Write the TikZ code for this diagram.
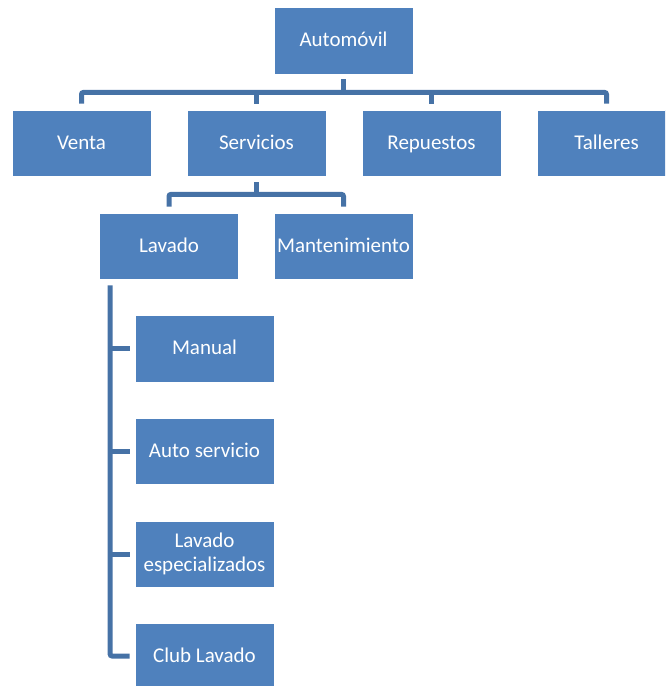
\documentclass[tikz,border=0pt]{standalone}
\usepackage{fontspec}
\setmainfont{Carlito}
\usetikzlibrary{calc}
\definecolor{boxblue}{HTML}{4F81BD}
\definecolor{connblue}{HTML}{4672A6}
\tikzset{
  orgbox/.style={rectangle, fill=boxblue, draw=white, line width=0.8pt,
    minimum width=139pt, minimum height=66pt, inner sep=0pt,
    text=white, font=\fontsize{21}{25}\selectfont, align=center},
  oneline/.style={text height=15.5pt, text depth=3pt},
  conn/.style={draw=connblue, line width=5pt, rounded corners=2pt}
}
\begin{document}
\begin{tikzpicture}[x=1pt,y=-1pt]
\useasboundingbox (0,0) rectangle (665,686);
\clip (0,0) rectangle (665,686);
\node[orgbox, oneline, minimum height=67pt] (auto) at (343.5,40.5) {Automóvil};
\node[orgbox, oneline] (venta) at (81.5,143) {Venta};
\node[orgbox, oneline] (serv) at (256.5,143) {Servicios};
\node[orgbox, oneline] (rep) at (431.5,143) {Repuestos};
\node[orgbox, oneline] (tall) at (606.5,143) {Talleres};
\node[orgbox, oneline] (lav) at (169,246) {Lavado};
\node[orgbox, oneline] (mant) at (343.5,246) {Mantenimiento};
\node[orgbox, oneline, minimum height=67pt] (manual) at (204.5,348.5) {Manual};
\node[orgbox, oneline] (autoserv) at (204.5,451) {Auto servicio};
\node[orgbox] (lavesp) at (204.5,554) {Lavado\\[-1pt]especializados};
\node[orgbox, oneline] (club) at (204.5,656) {Club Lavado};
% top level
\coordinate (hub) at ($(auto.south)+(0,18)$);
\draw[conn] ($(auto.south)+(0,5)$) -- (hub);
\draw[conn] ($(venta.north)+(0,-6)$) |- (hub) -| ($(tall.north)+(0,-6)$);
\draw[conn] ($(serv.north)+(0,-6)$) -- (serv.north |- hub);
\draw[conn] ($(rep.north)+(0,-6)$) -- (rep.north |- hub);
% servicios
\coordinate (hub2) at ($(serv.south)+(0,18)$);
\draw[conn] ($(serv.south)+(0,6)$) -- (hub2);
\draw[conn] ($(lav.north)+(0,-6)$) |- (hub2) -| ($(mant.north)+(0,-6)$);
% lavado
\coordinate (bus) at ($(lav.south west)+(11,6)$);
\draw[conn] (bus) |- ($(club.west)+(-5,0)$);
\draw[conn, rounded corners=0pt] (bus |- manual.west) -- ($(manual.west)+(-5,0)$);
\draw[conn, rounded corners=0pt] (bus |- autoserv.west) -- ($(autoserv.west)+(-5,0)$);
\draw[conn, rounded corners=0pt] (bus |- lavesp.west) -- ($(lavesp.west)+(-5,0)$);
\end{tikzpicture}
\end{document}
